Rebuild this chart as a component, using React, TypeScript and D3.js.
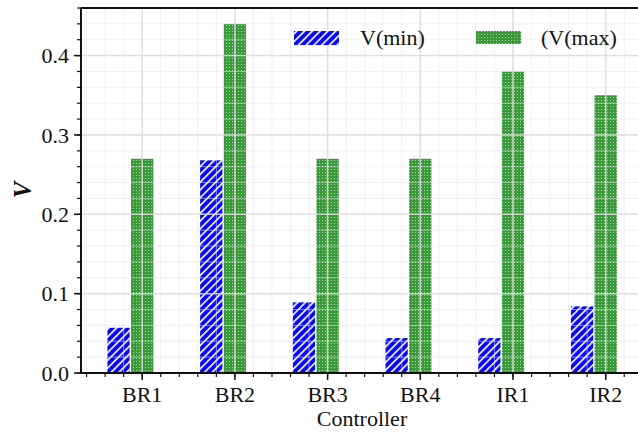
import React from "react";
import * as d3 from "d3";

// Controllers and their minimum / maximum V values
const categories = ["BR1", "BR2", "BR3", "BR4", "IR1", "IR2"];
const vMin = [0.057, 0.268, 0.089, 0.044, 0.044, 0.084];
const vMax = [0.27, 0.44, 0.27, 0.27, 0.38, 0.35];
const yTicks = [0.0, 0.1, 0.2, 0.3, 0.4];
const seriesNames = ["V(min)", "(V(max)"];

const W = 638;
const H = 432;
const left = 81;
const right = 640;
const top = 8;
const bottom = 373;

const FONT = "'Liberation Serif', 'Times New Roman', serif";

export default function App() {
  const x = d3.scaleLinear().domain([0.34, 6.37]).range([left, right]);
  const y = d3.scaleLinear().domain([0, 0.46]).range([bottom, top]);

  const barW = x(0.24) - x(0);
  const minOffset = -0.255;

  const yMinor = d3.range(0, 0.4601, 0.02).map((v) => +v.toFixed(2));
  const xMinor = d3.range(0.4, 6.4, 0.2).map((v) => +v.toFixed(1));
  const xMajor = categories.map((_, i) => i + 1);

  return (
    <svg
      width={W}
      height={H}
      style={{ position: "absolute", left: 0, top: 0, background: "#fff" }}
    >
      <defs>
        <pattern
          id="hatch"
          patternUnits="userSpaceOnUse"
          width={5.5}
          height={5.5}
          patternTransform="rotate(45)"
        >
          <rect width={5.5} height={5.5} fill="#0808f8" />
          <rect x={0} width={1.6} height={5.5} fill="#ffffff" />
        </pattern>
        <pattern id="dots" patternUnits="userSpaceOnUse" width={3} height={3}>
          <rect width={3} height={3} fill="#3a9a3a" />
          <rect x={1} y={1} width={1} height={1} fill="#a9d6a9" />
        </pattern>
        <clipPath id="plot">
          <rect x={left} y={top} width={right - left} height={bottom - top} />
        </clipPath>
      </defs>

      {/* bars */}
      <g clipPath="url(#plot)">
        {categories.map((c, i) => (
          <g key={c}>
            <rect
              x={x(i + 1 + minOffset) - barW / 2}
              y={y(vMin[i])}
              width={barW}
              height={y(0) - y(vMin[i])}
              fill="url(#hatch)"
            />
            <rect
              x={x(i + 1) - barW / 2}
              y={y(vMax[i])}
              width={barW}
              height={y(0) - y(vMax[i])}
              fill="url(#dots)"
            />
          </g>
        ))}
      </g>

      {/* grid drawn over the bars */}
      <g clipPath="url(#plot)">
        {yMinor.map((v) => (
          <line
            key={"ym" + v}
            x1={left}
            x2={right}
            y1={y(v)}
            y2={y(v)}
            stroke="#e6e6e6"
            strokeOpacity={0.55}
            strokeWidth={1}
          />
        ))}
        {xMinor.map((v) => (
          <line
            key={"xm" + v}
            x1={x(v)}
            x2={x(v)}
            y1={top}
            y2={bottom}
            stroke="#e6e6e6"
            strokeOpacity={0.55}
            strokeWidth={1}
          />
        ))}
        {yTicks.map((v) => (
          <line
            key={"yM" + v}
            x1={left}
            x2={right}
            y1={y(v)}
            y2={y(v)}
            stroke="#dadada"
            strokeOpacity={0.8}
            strokeWidth={1.5}
          />
        ))}
        {xMajor.map((v) => (
          <line
            key={"xM" + v}
            x1={x(v)}
            x2={x(v)}
            y1={top}
            y2={bottom}
            stroke="#dadada"
            strokeOpacity={0.8}
            strokeWidth={1.5}
          />
        ))}
      </g>

      {/* legend */}
      <g fontFamily={FONT} fontSize={22} fill="#111">
        <rect x={294} y={31} width={45} height={14} fill="url(#hatch)" />
        <text x={360} y={45}>
          {seriesNames[0]}
        </text>
        <rect x={476} y={31} width={45} height={13} fill="url(#dots)" />
        <text x={541} y={45}>
          {seriesNames[1]}
        </text>
      </g>

      {/* axes frame */}
      <line x1={left} x2={right} y1={top} y2={top} stroke="#111" strokeWidth={2} />
      <line x1={left} x2={left} y1={top} y2={bottom + 1} stroke="#111" strokeWidth={2} />
      <line x1={left - 1} x2={right} y1={bottom} y2={bottom} stroke="#111" strokeWidth={2} />

      {/* y ticks */}
      {yMinor.map((v) => (
        <line
          key={"yt" + v}
          x1={left - 4}
          x2={left}
          y1={y(v)}
          y2={y(v)}
          stroke="#111"
          strokeWidth={1.2}
        />
      ))}
      {yTicks.map((v) => (
        <g key={"ytl" + v}>
          <line x1={left - 7} x2={left} y1={y(v)} y2={y(v)} stroke="#111" strokeWidth={1.5} />
          <text
            x={left - 12}
            y={y(v)}
            dy="0.35em"
            textAnchor="end"
            fontFamily={FONT}
            fontSize={22}
            fill="#111"
          >
            {v.toFixed(1)}
          </text>
        </g>
      ))}

      {/* x ticks */}
      {xMinor.map((v) => (
        <line
          key={"xt" + v}
          x1={x(v)}
          x2={x(v)}
          y1={bottom}
          y2={bottom + 4}
          stroke="#111"
          strokeWidth={1.2}
        />
      ))}
      {categories.map((c, i) => (
        <g key={"xtl" + c}>
          <line
            x1={x(i + 1)}
            x2={x(i + 1)}
            y1={bottom}
            y2={bottom + 7}
            stroke="#111"
            strokeWidth={1.5}
          />
          <text
            x={x(i + 1)}
            y={402}
            textAnchor="middle"
            fontFamily={FONT}
            fontSize={22}
            fill="#111"
          >
            {c}
          </text>
        </g>
      ))}

      {/* axis titles */}
      <text
        x={362}
        y={426}
        textAnchor="middle"
        fontFamily={FONT}
        fontSize={22}
        fill="#111"
      >
        Controller
      </text>
      <text
        transform="translate(31,190) rotate(-90)"
        textAnchor="middle"
        fontFamily={FONT}
        fontSize={25}
        fontStyle="italic"
        fontWeight="bold"
        fill="#111"
      >
        V
      </text>
    </svg>
  );
}
